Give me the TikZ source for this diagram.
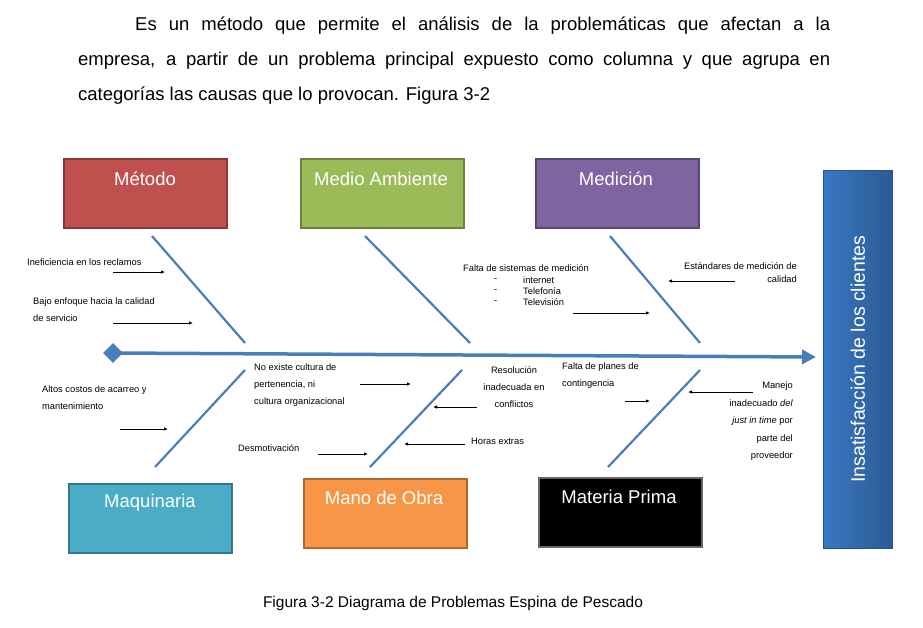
\documentclass[tikz,border=0pt]{standalone}
\usepackage{fontspec}
\setmainfont{Liberation Sans}
\usetikzlibrary{arrows.meta,shapes.geometric}
\definecolor{bonec}{HTML}{4A7EBB}
\begin{document}
\begin{tikzpicture}[x=1pt,y=-1pt,
  cat/.style={draw=#1!70!black,line width=1.5pt,fill=#1,text=white,minimum width=163pt,minimum height=69pt,anchor=north west,inner sep=0pt,align=center},
  lab/.style={text=white,font=\fontsize{18.5}{20}\selectfont},
  bone/.style={draw=bonec,line width=2.2pt},
  sm/.style={font=\fontsize{9.3}{17}\selectfont,inner sep=0pt,anchor=west},
  smr/.style={font=\fontsize{9.3}{17.5}\selectfont,inner sep=0pt,anchor=north east,align=right},
  ar/.style={-{Latex[length=4pt,width=3.5pt]},line width=0.8pt}]
\useasboundingbox (0,0) rectangle (923,627);
\node[anchor=north west,inner sep=0pt,text width=752pt,font=\fontsize{18.5}{35}\selectfont,align=justify] (para) at (78,17)
 {\hspace*{57pt}Es un método que permite el análisis de la problemáticas que afectan a la\linebreak empresa, a partir de un problema principal expuesto como columna y que agrupa en\linebreak categorías las causas que lo provocan. Figura 3-2};
\definecolor{cr}{HTML}{C0504D}\definecolor{cg}{HTML}{9BBB59}\definecolor{cp}{HTML}{8064A2}
\definecolor{ct}{HTML}{4BACC6}\definecolor{co}{HTML}{F79646}\definecolor{cb}{HTML}{3A78C4}
\node[cat=cr] (met) at (63,158) {};\node[lab] at (145,179) {Método};
\node[cat=cg] (amb) at (300,158) {};\node[lab] at (381,179) {Medio Ambiente};
\node[cat=cp] (med) at (535,158) {};\node[lab] at (616,179) {Medición};
\node[cat=ct] (maq) at (68,483) {};\node[lab] at (150,503) {Maquinaria};
\node[cat=co] (mano) at (303,478) {};\node[lab] at (384,498) {Mano de Obra};
\node[cat=black,draw=black!60] (mat) at (538,477) {};\node[lab] at (619,497) {Materia Prima};
\node[anchor=north west,minimum width=69pt,minimum height=378pt,inner sep=0pt,
  left color=cb,right color=cb!75!black,draw=cb!70!black] (eff) at (823,170) {};
\node[rotate=90,text=white,font=\fontsize{19.5}{20}\selectfont] at (eff.center) {Insatisfacción de los clientes};
% spine
\node[diamond,fill=bonec,minimum width=20pt,minimum height=20pt,inner sep=0pt] (dia) at (113,353) {};
\coordinate (head) at (816,357);
\draw[draw=bonec,line width=3.5pt,-{Triangle[length=14pt,width=14pt]}] (dia.center) -- (head);
% bones
\draw[bone] (152,236) -- (245,343);
\draw[bone] (365,236) -- (470,343);
\draw[bone] (610,236) -- (700,343);
\draw[bone] (155,467) -- (245,370);
\draw[bone] (370,467) -- (462,370);
\draw[bone] (608,467) -- (700,370);
% texts
\node[sm] at (27,262) {Ineficiencia en los reclamos};
\draw[ar] (113,272) -- (165,272);
\node[sm,anchor=north west,align=left] at (33,298) {Bajo enfoque hacia la calidad\\de servicio};
\draw[ar] (113,323) -- (193,323);
\node[sm] at (463,268) {Falta de sistemas de medición};
\node[sm] at (494,280) {-};\node[sm] at (523,280) {internet};
\node[sm] at (494,291) {-};\node[sm] at (523,291) {Telefonía};
\node[sm] at (494,302) {-};\node[sm] at (523,302) {Televisión};
\draw[ar] (573,313) -- (650,313);
\node[smr,font=\fontsize{9.3}{13}\selectfont] at (797,262) {Estándares de medición de\\calidad};
\draw[ar] (735,281) -- (668,281);
\node[sm,anchor=north west,align=left] at (42,386) {Altos costos de acarreo y\\mantenimiento};
\draw[ar] (120,429) -- (168,429);
\node[sm,anchor=north west,align=left] at (254,364) {No existe cultura de\\pertenencia, ni\\cultura organizacional};
\draw[ar] (360,384) -- (411,384);
\node[sm] at (238,448) {Desmotivación};
\draw[ar] (318,454) -- (368,454);
\node[sm,anchor=north,align=center] at (514,366) {Resolución\\inadecuada en\\conflictos};
\draw[ar] (477,407) -- (433,407);
\node[sm] at (471,441) {Horas extras};
\draw[ar] (465,444) -- (404,444);
\node[sm,anchor=north west,align=left] at (562,363) {Falta de planes de\\contingencia};
\draw[ar] (625,401) -- (650,401);
\node[smr] at (793,382) {Manejo\\inadecuado \textit{del}\\\textit{just in time} por\\parte del\\proveedor};
\draw[ar] (753,392) -- (688,392);
\node[font=\fontsize{15.5}{17}\selectfont] (cap) at (453,603) {Figura 3-2 Diagrama de Problemas Espina de Pescado};
\end{tikzpicture}
\end{document}
